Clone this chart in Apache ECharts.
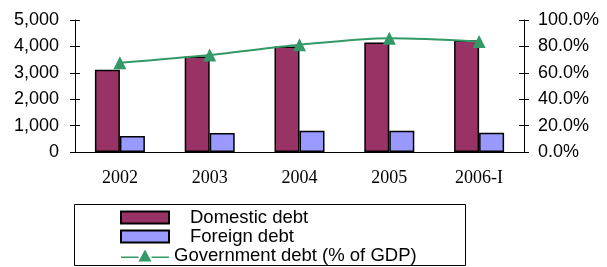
<!DOCTYPE html>
<html>
<head>
<meta charset="utf-8">
<script src="https://cdn.jsdelivr.net/npm/echarts@6/dist/echarts.min.js"></script>
<style>
  html, body { margin: 0; padding: 0; background: #fff; }
  #chart { width: 607px; height: 267px; }
</style>
</head>
<body>
<div id="chart"></div>
<script>
const years = ['2002', '2003', '2004', '2005', '2006-I']
const domesticDebt = [3120, 3620, 4000, 4150, 4230]
const foreignDebt = [610, 720, 805, 805, 730]
const debtPctGdp = [67.6, 73.5, 81.2, 86.2, 83.8]
const leftTicks = [0, 5000, 1000]
const rightTicks = [0, 100, 20]

const chart = echarts.init(document.getElementById('chart'))

const sans = 'Liberation Sans, Arial, sans-serif'
const serif = 'Liberation Serif, Times New Roman, serif'
// 图例里的 线+三角 图标
const lineIcon = 'path://M0,7 L17.5,7 L17.5,8.5 L0,8.5 Z M17.5,12 L24,0 L30.5,12 Z M30.5,7 L48,7 L48,8.5 L30.5,8.5 Z'

// y 轴公共样式
function valueAxis(pos, range, inside, fmt, margin) {
  return {
    type: 'value',
    position: pos,
    min: range[0],
    max: range[1],
    interval: range[2],
    splitLine: { show: false },
    axisLine: { show: !inside, lineStyle: { color: '#000', width: 1 } },
    axisTick: { show: true, inside: inside, length: 5, lineStyle: { color: '#000' } },
    axisLabel: {
      show: !inside,
      margin: margin,
      color: '#000',
      fontFamily: sans,
      fontSize: 18,
      formatter: fmt
    }
  }
}

chart.setOption({
  animation: false,
  grid: { left: 75, right: 83, top: 20, bottom: 115 },
  graphic: [{
    type: 'rect',
    shape: { x: 74.5, y: 204.5, width: 391, height: 61 },
    style: { fill: '#fff', stroke: '#000', lineWidth: 1 },
    z: 0
  }],
  legend: {
    orient: 'vertical',
    left: 120,
    top: 208,
    itemWidth: 48,
    itemHeight: 12,
    itemGap: 0,
    padding: 0,
    textStyle: { color: '#000', fontFamily: sans, fontSize: 18.5, lineHeight: 18 },
    data: [
      { name: 'Domestic debt', icon: 'rect', textStyle: { padding: [0, 0, 0, 16] } },
      { name: 'Foreign debt', icon: 'rect', textStyle: { padding: [0, 0, 0, 16] } },
      {
        name: 'Government debt (% of GDP)',
        icon: lineIcon,
        itemStyle: { color: '#339966', borderWidth: 0 },
        textStyle: { padding: [0, 0, 0, 0] }
      }
    ]
  },
  xAxis: [
    {
      type: 'category',
      data: years,
      axisLine: { lineStyle: { color: '#000', width: 1 } },
      axisTick: { length: 5, lineStyle: { color: '#000' } },
      axisLabel: { margin: 17, color: '#000', fontFamily: serif, fontSize: 18 }
    },
    {
      type: 'category',
      data: years,
      position: 'bottom',
      axisLine: { show: false },
      axisTick: { inside: true, length: 5, lineStyle: { color: '#000' } },
      axisLabel: { show: false }
    }
  ],
  yAxis: [
    valueAxis('left', leftTicks, false, v => v.toLocaleString('en-US'), 16),
    valueAxis('right', rightTicks, false, v => v.toFixed(1) + '%', 14),
    valueAxis('left', leftTicks, true),
    valueAxis('right', rightTicks, true)
  ],
  series: [
    {
      name: 'Domestic debt',
      type: 'bar',
      data: domesticDebt,
      barWidth: 25,
      barGap: '0%',
      itemStyle: { color: '#993366', borderColor: '#000', borderWidth: 1.5 }
    },
    {
      name: 'Foreign debt',
      type: 'bar',
      data: foreignDebt,
      barWidth: 25,
      barGap: '0%',
      itemStyle: { color: '#9999FF', borderColor: '#000', borderWidth: 1.5 }
    },
    {
      name: 'Government debt (% of GDP)',
      type: 'line',
      yAxisIndex: 1,
      data: debtPctGdp,
      smooth: 0.3,
      symbol: 'triangle',
      symbolSize: 13,
      lineStyle: { color: '#339966', width: 2 },
      itemStyle: { color: '#339966' },
      z: 5
    }
  ]
})
</script>
</body>
</html>
